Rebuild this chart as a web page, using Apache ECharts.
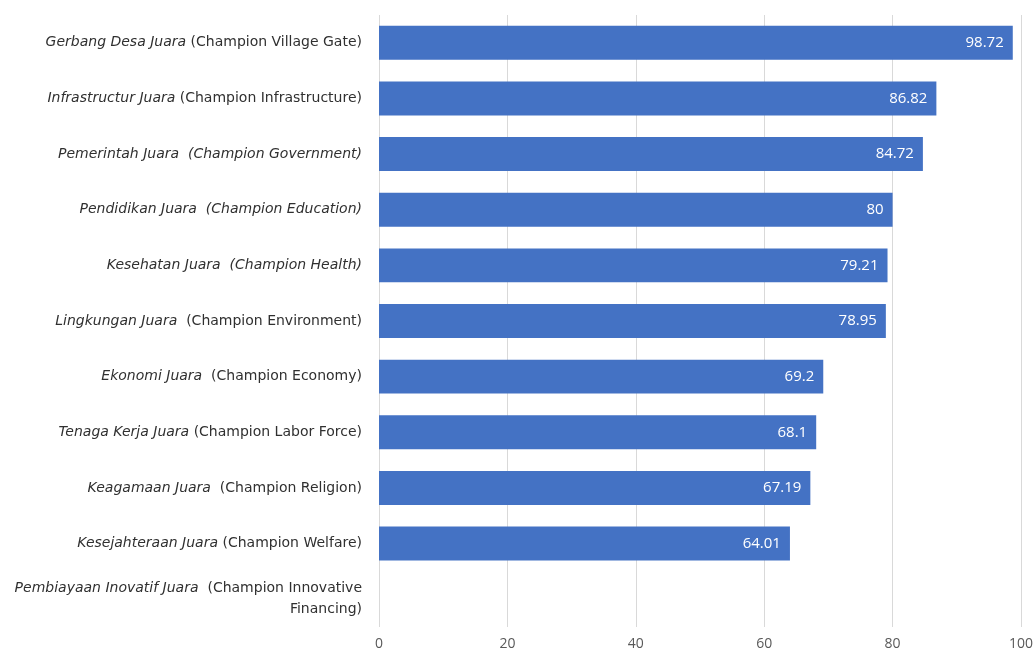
<!DOCTYPE html>
<html>
<head>
<meta charset="utf-8">
<script src="https://cdn.jsdelivr.net/npm/echarts@6/dist/echarts.min.js"></script>
<style>
html,body{margin:0;padding:0;background:#fff;}
#c{width:1036px;height:652px;}
</style>
</head>
<body>
<div id="c"></div>
<script>
// Indonesian name (italic) and English gloss
const namesId = [
  "Gerbang Desa Juara",
  "Infrastructur Juara",
  "Pemerintah Juara",
  "Pendidikan Juara",
  "Kesehatan Juara",
  "Lingkungan Juara",
  "Ekonomi Juara",
  "Tenaga Kerja Juara",
  "Keagamaan Juara",
  "Kesejahteraan Juara",
  "Pembiayaan Inovatif Juara"
];
const namesEn = [
  "(Champion Village Gate)",
  "(Champion Infrastructure)",
  "(Champion Government)",
  "(Champion Education)",
  "(Champion Health)",
  "(Champion Environment)",
  "(Champion Economy)",
  "(Champion Labor Force)",
  "(Champion Religion)",
  "(Champion Welfare)",
  "(Champion Innovative\nFinancing)"
];
const values = [98.72, 86.82, 84.72, 80, 79.21, 78.95, 69.2, 68.1, 67.19, 64.01, null];
const xTicks = [0, 20, 40, 60, 80, 100];

// labels whose English gloss is also italic in the original
const italicGloss = new Set([2, 3, 4]);
const wideGap = new Set([2, 3, 4, 5, 6, 8, 10]);

const categories = namesId.map((n, i) => n + " " + namesEn[i]);

function fmtLabel(val, idx) {
  const i = categories.indexOf(val);
  const tag = italicGloss.has(i) ? 'i' : 'n';
  const gap = wideGap.has(i) ? '  ' : ' ';
  const parts = namesEn[i].split('\n').map(p => '{' + tag + '|' + p + '}');
  return '{i|' + namesId[i] + '}{' + tag + '|' + gap + '}' + parts.join('\n');
}

const chart = echarts.init(document.getElementById('c'), null, {renderer: 'canvas'});
const fontFam = '"Open Sans", Lato, sans-serif';
const labFam = '"DejaVu Sans", "Open Sans", sans-serif';
chart.setOption({
  animation: false,
  backgroundColor: '#ffffff',
  grid: {left: 379, right: 15, top: 15, bottom: 25, containLabel: false},
  xAxis: {
    type: 'value',
    min: 0, max: 100, interval: 20,
    axisLine: {show: false},
    axisTick: {show: false},
    splitLine: {show: true, lineStyle: {color: '#d9d9d9', width: 1}},
    axisLabel: {
      color: '#595959', fontSize: 14, fontFamily: fontFam, margin: 10,
      formatter: v => xTicks.includes(v) ? String(v) : ''
    }
  },
  yAxis: {
    type: 'category',
    data: categories,
    inverse: true,
    axisLine: {show: false},
    axisTick: {show: false},
    axisLabel: {
      margin: 17,
      formatter: fmtLabel,
      rich: {
        i: {fontStyle: 'italic', fontSize: 14, color: '#303030', fontFamily: labFam, lineHeight: 21, align: 'right'},
        n: {fontSize: 14, color: '#303030', fontFamily: labFam, lineHeight: 21, align: 'right'}
      }
    }
  },
  series: [{
    type: 'bar',
    data: values,
    barCategoryGap: '39%',
    itemStyle: {color: '#4472C4'},
    label: {
      show: true,
      position: 'insideRight',
      distance: 9,
      color: '#ffffff',
      fontSize: 15,
      fontFamily: fontFam
    }
  }]
});
</script>
</body>
</html>
